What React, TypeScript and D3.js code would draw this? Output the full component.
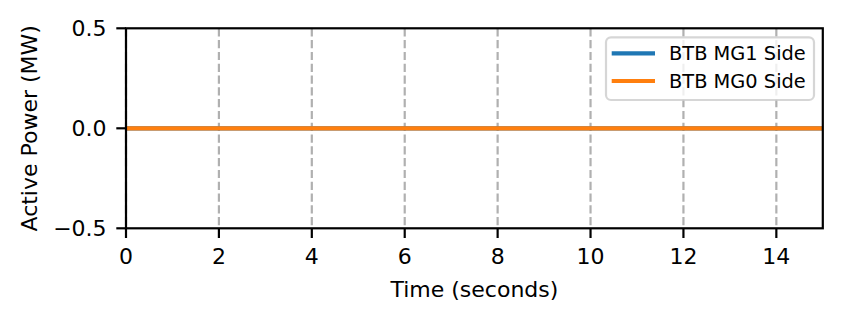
import React from "react";
import * as d3 from "d3";

const timeSeconds = [0, 15];
const mg1Side = [0, 0];
const mg0Side = [0, 0];
const xTicks = [0, 2, 4, 6, 8, 10, 12, 14];
const yTicks = [-0.5, 0.0, 0.5];
const seriesNames = ["BTB MG1 Side", "BTB MG0 Side"];
const seriesColors = ["#1f77b4", "#ff7f0e"];

const W = 844;
const H = 322;
const L = 126, R = 822.8, T = 28.3, B = 228.3;
const FONT = "'DejaVu Sans', sans-serif";
const FS = 22;
const LFS = 19.4;

export default function App() {
  const x = d3.scaleLinear().domain([0, 15]).range([L, R]);
  const y = d3.scaleLinear().domain([-0.5, 0.5]).range([B, T]);
  const line = d3
    .line<number>()
    .x((_, i) => x(timeSeconds[i]))
    .y((d) => y(d));
  const fmtY = (v: number) => (v < 0 ? "\u2212" : "") + Math.abs(v).toFixed(1);
  const series = [mg1Side, mg0Side];

  return (
    <svg
      width={W}
      height={H}
      style={{ position: "absolute", left: 0, top: 0, background: "#fff" }}
      fontFamily={FONT}
    >
      <rect x={0} y={0} width={W} height={H} fill="#fff" />
      <defs>
        <clipPath id="plot">
          <rect x={L} y={T} width={R - L} height={B - T} />
        </clipPath>
      </defs>
      {/* grid */}
      {xTicks.map((t) => (
        <line
          key={"g" + t}
          x1={x(t)}
          x2={x(t)}
          y1={T}
          y2={B}
          stroke="#b0b0b0"
          strokeWidth={2.2}
          strokeDasharray="8.2,3.6"
        />
      ))}
      {/* series */}
      <g clipPath="url(#plot)">
        {series.map((s, i) => (
          <path
            key={"s" + i}
            d={line(s) || ""}
            fill="none"
            stroke={seriesColors[i]}
            strokeWidth={4.2}
            strokeLinecap="square"
          />
        ))}
      </g>
      {/* spines */}
      <rect x={L} y={T} width={R - L} height={B - T} fill="none" stroke="#000" strokeWidth={2.2} />
      {/* x ticks */}
      {xTicks.map((t) => (
        <g key={"xt" + t}>
          <line x1={x(t)} x2={x(t)} y1={B} y2={B + 9.7} stroke="#000" strokeWidth={2.2} />
          <text x={x(t)} y={264} fontSize={FS} textAnchor="middle" fill="#000">
            {t}
          </text>
        </g>
      ))}
      {/* y ticks */}
      {yTicks.map((t) => (
        <g key={"yt" + t}>
          <line x1={L - 9.7} x2={L} y1={y(t)} y2={y(t)} stroke="#000" strokeWidth={2.2} />
          <text x={106.6} y={y(t) + 8.1} fontSize={FS} textAnchor="end" fill="#000">
            {fmtY(t)}
          </text>
        </g>
      ))}
      {/* axis labels */}
      <text x={(L + R) / 2} y={296.5} fontSize={FS} textAnchor="middle" fill="#000">
        Time (seconds)
      </text>
      <text
        transform={`translate(37,${(T + B) / 2}) rotate(-90)`}
        fontSize={FS}
        textAnchor="middle"
        fill="#000"
      >
        Active Power (MW)
      </text>
      {/* legend */}
      <rect
        x={606}
        y={37.3}
        width={208}
        height={62.7}
        rx={5}
        ry={5}
        fill="#fff"
        fillOpacity={0.8}
        stroke="#cccccc"
        strokeOpacity={0.8}
        strokeWidth={2.2}
      />
      {seriesNames.map((n, i) => (
        <g key={"lg" + i}>
          <line
            x1={613.8}
            x2={652.9}
            y1={53.3 + i * 27.7}
            y2={53.3 + i * 27.7}
            stroke={seriesColors[i]}
            strokeWidth={4.2}
            strokeLinecap="square"
          />
          <text x={669} y={60.2 + i * 27.7} fontSize={LFS} fill="#000">
            {n}
          </text>
        </g>
      ))}
    </svg>
  );
}
